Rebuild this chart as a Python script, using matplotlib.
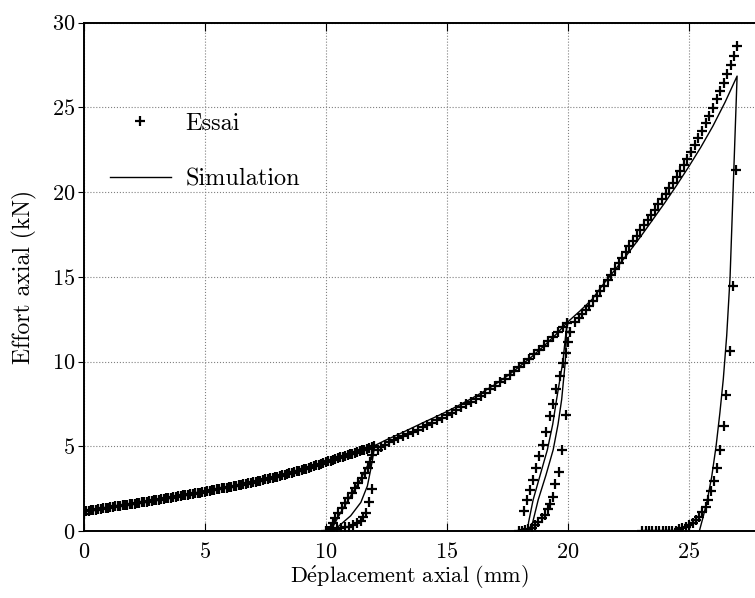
import numpy as np
import matplotlib
matplotlib.use("Agg")
import matplotlib.pyplot as plt

# ---- données ----
# Essai : enveloppe 0 -> 12 mm
essai_x_a = [0.0, 0.1, 0.2, 0.3, 0.4, 0.5, 0.6, 0.7, 0.8, 0.9, 1.0,
             1.1, 1.2, 1.3, 1.4, 1.5, 1.6, 1.7, 1.8, 1.9, 2.0,
             2.1, 2.2, 2.3, 2.4, 2.5, 2.6, 2.7, 2.8, 2.9, 3.0,
             3.1, 3.2, 3.3, 3.4, 3.5, 3.6, 3.7, 3.8, 3.9, 4.0,
             4.1, 4.2, 4.3, 4.4, 4.5, 4.6, 4.7, 4.8, 4.9, 5.0,
             5.1, 5.2, 5.3, 5.4, 5.5, 5.6, 5.7, 5.8, 5.9, 6.0,
             6.1, 6.2, 6.3, 6.4, 6.5, 6.6, 6.7, 6.8, 6.9, 7.0,
             7.1, 7.2, 7.3, 7.4, 7.5, 7.6, 7.7, 7.8, 7.9, 8.0,
             8.1, 8.2, 8.3, 8.4, 8.5, 8.6, 8.7, 8.8, 8.9, 9.0,
             9.1, 9.2, 9.3, 9.4, 9.5, 9.6, 9.7, 9.8, 9.9, 10.0,
             10.1, 10.2, 10.3, 10.4, 10.5, 10.6, 10.7, 10.8, 10.9, 11.0,
             11.1, 11.2, 11.3, 11.4, 11.5, 11.6, 11.7, 11.8, 11.9, 12.0]
essai_y_a = [1.00, 1.17, 1.20, 1.22, 1.24, 1.27, 1.29, 1.31, 1.33, 1.36, 1.38,
             1.40, 1.42, 1.45, 1.47, 1.49, 1.51, 1.53, 1.56, 1.58, 1.60,
             1.62, 1.65, 1.67, 1.69, 1.72, 1.74, 1.76, 1.79, 1.81, 1.83,
             1.85, 1.88, 1.90, 1.93, 1.95, 1.97, 2.00, 2.02, 2.05, 2.07,
             2.10, 2.12, 2.15, 2.17, 2.20, 2.22, 2.25, 2.27, 2.30, 2.32,
             2.35, 2.37, 2.40, 2.43, 2.46, 2.48, 2.51, 2.54, 2.56, 2.59,
             2.62, 2.65, 2.68, 2.71, 2.74, 2.76, 2.79, 2.82, 2.85, 2.88,
             2.91, 2.95, 2.98, 3.01, 3.05, 3.08, 3.11, 3.14, 3.18, 3.21,
             3.25, 3.29, 3.33, 3.37, 3.41, 3.44, 3.48, 3.52, 3.56, 3.60,
             3.65, 3.69, 3.74, 3.78, 3.83, 3.88, 3.92, 3.97, 4.01, 4.06,
             4.11, 4.15, 4.20, 4.24, 4.29, 4.34, 4.38, 4.43, 4.47, 4.52,
             4.57, 4.62, 4.66, 4.71, 4.76, 4.81, 4.86, 4.90, 4.95, 5.00]

# Essai : cycle 1 (décharge / recharge vers 10-12 mm)
essai_x_c1 = [11.90, 11.83, 11.73, 11.62, 11.48, 11.34, 11.20, 11.07, 10.93, 10.79,
              10.66, 10.52, 10.38, 10.29, 10.21, 10.03, 10.10, 10.17, 10.31, 10.45,
              10.62, 10.79, 10.97, 11.14, 11.30, 11.44, 11.55, 11.66, 11.80, 11.90]
essai_y_c1 = [4.50, 4.10, 3.72, 3.42, 3.12, 2.83, 2.53, 2.23, 1.94, 1.64,
              1.35, 1.05, 0.75, 0.46, 0.16, 0.00, 0.00, 0.03, 0.06, 0.12,
              0.18, 0.22, 0.25, 0.34, 0.45, 0.59, 0.81, 1.08, 1.73, 2.46]

# Essai : enveloppe 12 -> 20 mm
essai_x_b = [12.15, 12.30, 12.45, 12.60, 12.80, 13.00, 13.20, 13.40, 13.60, 13.80,
             14.00, 14.20, 14.40, 14.60, 14.80, 15.00, 15.20, 15.40, 15.60, 15.80,
             16.00, 16.20, 16.40, 16.60, 16.80, 17.00, 17.20, 17.40, 17.60, 17.80,
             18.00, 18.20, 18.40, 18.60, 18.80, 19.00, 19.20, 19.40, 19.60, 19.80, 19.95]
essai_y_b = [4.80, 4.95, 5.10, 5.24, 5.38, 5.50, 5.62, 5.74, 5.86, 5.99,
             6.12, 6.26, 6.40, 6.54, 6.69, 6.84, 6.99, 7.15, 7.31, 7.47,
             7.63, 7.80, 7.97, 8.16, 8.36, 8.57, 8.78, 9.00, 9.22, 9.45,
             9.69, 9.93, 10.17, 10.42, 10.67, 10.93, 11.19, 11.46, 11.74, 12.03, 12.30]

# Essai : cycle 2 (vers 18-20 mm)
essai_x_c2 = [19.93, 19.81, 19.68, 19.51, 19.38, 19.26, 19.10, 18.96, 18.82, 18.69,
              18.57, 18.44, 18.33, 18.19, 17.97, 18.10, 18.23, 18.37, 18.51, 18.64,
              18.78, 18.92, 19.06, 19.17, 19.26, 19.38, 19.47, 19.65, 19.77, 19.93,
              20.02, 20.09]
essai_y_c2 = [10.53, 9.94, 9.15, 8.36, 7.47, 6.78, 5.83, 5.10, 4.40, 3.72,
              3.02, 2.43, 1.84, 1.21, 0.00, 0.03, 0.06, 0.10, 0.20, 0.36,
              0.55, 0.75, 0.95, 1.28, 1.60, 2.00, 2.75, 3.48, 4.76, 6.82,
              11.16, 11.72]

# Essai : enveloppe 20 -> 27 mm
essai_x_c = [20.30, 20.45, 20.60, 20.75, 20.90, 21.05, 21.20, 21.35, 21.50, 21.65,
             21.80, 21.95, 22.10, 22.25, 22.40, 22.55, 22.70, 22.85, 23.00, 23.15,
             23.30, 23.45, 23.60, 23.75, 23.90, 24.05, 24.20, 24.35, 24.50, 24.65,
             24.80, 24.95, 25.10, 25.25, 25.40, 25.55, 25.70, 25.85, 26.00, 26.15,
             26.30, 26.45, 26.60, 26.74, 26.87, 26.98]
essai_y_c = [12.31, 12.56, 12.80, 13.04, 13.29, 13.55, 13.85, 14.16, 14.48, 14.80,
             15.13, 15.46, 15.80, 16.14, 16.48, 16.81, 17.13, 17.44, 17.75, 18.05,
             18.35, 18.66, 18.97, 19.28, 19.59, 19.90, 20.22, 20.55, 20.88, 21.22,
             21.58, 21.96, 22.35, 22.76, 23.18, 23.62, 24.06, 24.52, 24.99, 25.47,
             25.96, 26.46, 26.98, 27.50, 28.02, 28.60]

# Essai : décharge finale
essai_x_d = [26.95, 26.83, 26.70, 26.56, 26.45, 26.29, 26.18, 26.05, 25.92, 25.81,
             25.71, 25.57, 25.43, 25.30, 25.16, 25.02, 24.88, 24.74, 24.60, 24.47,
             24.33, 24.19, 24.06, 23.92, 23.78, 23.64, 23.50, 23.37, 23.23, 23.09]
essai_y_d = [21.30, 14.48, 10.63, 8.02, 6.18, 4.78, 3.73, 2.94, 2.37, 1.84,
             1.44, 1.10, 0.85, 0.65, 0.45, 0.35, 0.25, 0.15, 0.09, 0.03,
             0.01, 0.00, 0.00, 0.00, 0.00, 0.00, 0.00, 0.00, 0.00, 0.00]

# Simulation (courbe continue)
simu_x = [0.0, 1.0, 2.0, 3.0, 4.0, 5.0, 6.0, 7.0, 8.0, 9.0, 10.0, 11.0, 12.03,
          11.86, 11.72, 11.45, 11.03, 10.48, 10.25,
          10.28, 10.62, 11.03, 11.45, 11.79, 12.03,
          12.5, 13.0, 13.5, 14.0, 14.5, 15.0, 15.5, 16.0, 16.5, 17.0, 17.5,
          18.0, 18.5, 19.0, 19.5, 19.97,
          19.90, 19.75, 19.60, 19.40, 19.10, 18.78, 18.55, 18.35,
          18.38, 18.57, 18.86, 19.16, 19.38, 19.54, 19.80, 19.97,
          20.5, 21.0, 21.5, 22.0, 22.5, 23.0, 23.5, 24.0, 24.5, 25.0, 25.5,
          26.0, 26.5, 27.0,
          26.71, 26.57, 26.43, 26.29, 26.13, 25.95, 25.77, 25.60, 25.44]
simu_y = [1.15, 1.38, 1.60, 1.83, 2.07, 2.32, 2.59, 2.89, 3.23, 3.62, 4.07, 4.55, 5.05,
          3.65, 2.66, 1.69, 0.90, 0.22, 0.00,
          0.22, 1.10, 2.08, 3.06, 4.04, 5.05,
          5.38, 5.70, 6.04, 6.38, 6.71, 7.05, 7.42, 7.80, 8.21, 8.65, 9.15,
          9.70, 10.27, 10.90, 11.58, 12.30,
          10.00, 7.77, 6.30, 4.80, 3.30, 1.84, 0.50, 0.00,
          0.50, 1.84, 3.30, 4.80, 6.30, 7.77, 10.00, 12.30,
          12.98, 13.66, 14.62, 15.50, 16.40, 17.35, 18.35, 19.35, 20.40, 21.50, 22.65,
          23.90, 25.30, 26.85,
          15.00, 11.52, 8.97, 6.99, 4.99, 3.20, 1.84, 0.85, 0.00]

essai_x = essai_x_a + essai_x_c1 + essai_x_b + essai_x_c2 + essai_x_c + essai_x_d
essai_y = essai_y_a + essai_y_c1 + essai_y_b + essai_y_c2 + essai_y_c + essai_y_d

# ---- style ----
plt.rcParams['font.family'] = 'serif'
plt.rcParams['font.serif'] = ['cmr10']
plt.rcParams['mathtext.fontset'] = 'cm'
plt.rcParams['axes.formatter.use_mathtext'] = True

fig = plt.figure(figsize=(7.55, 5.98), dpi=100)
ax = fig.add_axes([0.111, 0.112, 0.889, 0.850])

ax.plot(essai_x, essai_y, linestyle='none', marker='+', color='black',
        markersize=6.5, markeredgewidth=1.6, label='Essai')
ax.plot(simu_x, simu_y, color='black', linewidth=1.0, label='Simulation')

ax.set_xlim(0, 27.74)
ax.set_ylim(0, 30)
ax.set_xticks([0, 5, 10, 15, 20, 25])
ax.set_yticks([0, 5, 10, 15, 20, 25, 30])
ax.tick_params(axis='x', direction='in', top=True, length=5.5, width=0.8,
               labelsize=16, pad=8)
ax.tick_params(axis='y', direction='out', length=4, width=0.8, labelsize=16, pad=2)
ax.grid(True, linestyle=':', color='0.5', linewidth=0.8)
ax.set_axisbelow(True)

for side in ['left', 'bottom', 'top']:
    ax.spines[side].set_linewidth(1.4)
ax.spines['right'].set_visible(False)

ax.set_xlabel(r'$\mathrm{D\acute{e}placement\ axial\ (mm)}$', fontsize=16)
ax.set_ylabel('Effort axial (kN)', fontsize=17)
ax.xaxis.set_label_coords(0.485, -0.064)
ax.yaxis.set_label_coords(-0.070, 0.5)

ax.legend(loc='upper left', bbox_to_anchor=(0.039, 0.823), frameon=False,
          fontsize=17.5, handlelength=2.5, handletextpad=0.6, labelspacing=1.38,
          borderpad=0, borderaxespad=0)

fig.savefig('out.png', dpi=100)
